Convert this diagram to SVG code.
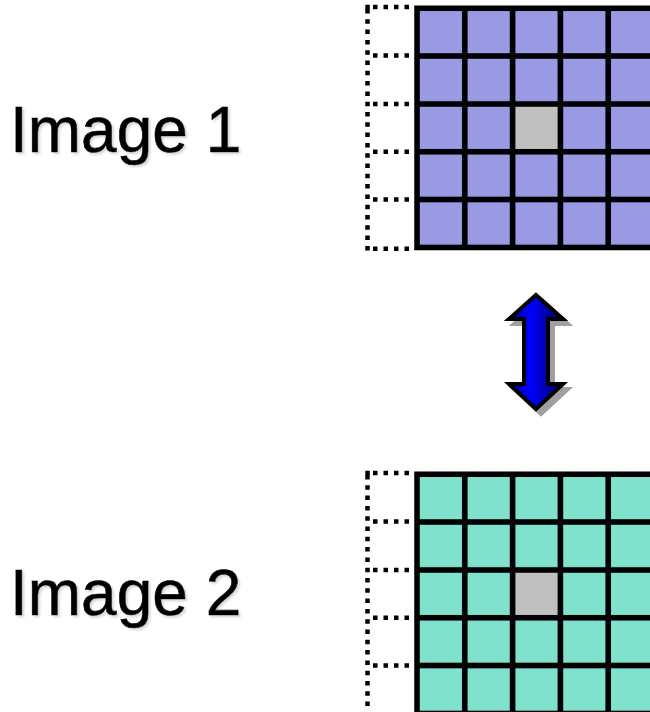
<svg xmlns="http://www.w3.org/2000/svg" xmlns:xlink="http://www.w3.org/1999/xlink" width="650" height="712" viewBox="0 0 650 712">
<style>
.lbl{font-family:"Liberation Sans",Arial,sans-serif;font-size:64px;fill:#000;stroke:#000;stroke-width:0.6;filter:url(#tsh)}
.cell{stroke:currentColor;stroke-width:1}
.gl{stroke:#000;stroke-width:5.5;fill:none}
.dot{stroke:#000;stroke-width:4.5;fill:none}
.dh{stroke-dasharray:4.5 6}
.dv{stroke-dasharray:4.5 5.8}
.hot{fill:#C0C0C0;stroke:#A8A8A8;stroke-width:1}
</style>
<defs>
<filter id="tsh" x="-10%" y="-10%" width="130%" height="130%">
<feDropShadow dx="2" dy="2" stdDeviation="1" flood-color="#888" flood-opacity="0.35"/>
</filter>
<linearGradient id="ag" x1="0" y1="0" x2="1" y2="0">
<stop offset="0" stop-color="#00008A"/>
<stop offset="0.4" stop-color="#0000FF"/>
<stop offset="1" stop-color="#00005A"/>
</linearGradient>
<g id="grid">
<g class="cells">
<rect class="cell" x="419.5" y="10.7" width="42.8" height="42.8"/>
<rect class="cell" x="467.3" y="10.7" width="42.8" height="42.8"/>
<rect class="cell" x="515.1" y="10.7" width="42.8" height="42.8"/>
<rect class="cell" x="562.9" y="10.7" width="42.8" height="42.8"/>
<rect class="cell" x="610.7" y="10.7" width="42.8" height="42.8"/>
<rect class="cell" x="419.5" y="58.5" width="42.8" height="42.8"/>
<rect class="cell" x="467.3" y="58.5" width="42.8" height="42.8"/>
<rect class="cell" x="515.1" y="58.5" width="42.8" height="42.8"/>
<rect class="cell" x="562.9" y="58.5" width="42.8" height="42.8"/>
<rect class="cell" x="610.7" y="58.5" width="42.8" height="42.8"/>
<rect class="cell" x="419.5" y="106.4" width="42.8" height="42.8"/>
<rect class="cell" x="467.3" y="106.4" width="42.8" height="42.8"/>
<rect class="hot" x="515.1" y="106.4" width="42.8" height="42.8"/>
<rect class="cell" x="562.9" y="106.4" width="42.8" height="42.8"/>
<rect class="cell" x="610.7" y="106.4" width="42.8" height="42.8"/>
<rect class="cell" x="419.5" y="154.3" width="42.8" height="42.8"/>
<rect class="cell" x="467.3" y="154.3" width="42.8" height="42.8"/>
<rect class="cell" x="515.1" y="154.3" width="42.8" height="42.8"/>
<rect class="cell" x="562.9" y="154.3" width="42.8" height="42.8"/>
<rect class="cell" x="610.7" y="154.3" width="42.8" height="42.8"/>
<rect class="cell" x="419.5" y="202.1" width="42.8" height="42.8"/>
<rect class="cell" x="467.3" y="202.1" width="42.8" height="42.8"/>
<rect class="cell" x="515.1" y="202.1" width="42.8" height="42.8"/>
<rect class="cell" x="562.9" y="202.1" width="42.8" height="42.8"/>
<rect class="cell" x="610.7" y="202.1" width="42.8" height="42.8"/>
</g>
<path class="gl" d="M414.3,8.2H660M414.3,56H660M414.3,103.9H660M414.3,151.8H660M414.3,199.6H660M414.3,247.4H660M417,5.5V250.1M464.8,5.5V250.1M512.6,5.5V250.1M560.4,5.5V250.1M608.2,5.5V250.1M656,5.5V250.1"/>
<path class="dot dh" d="M373,7H414M373,55.5H414M373,103.9H414M373,151.8H414M373,199.6H414M373,248.7H414"/>
<path class="dot dv" d="M367.5,9V252"/>
<path class="dot dh" d="M365.3,7H369.8"/>
</g>
</defs>

<g id="image1">
<text class="lbl" x="10" y="151.7">Image 1</text>
<use xlink:href="#grid" href="#grid" fill="#9A9AE4" color="#7A7AC8"/>
</g>

<g id="image2">
<text class="lbl" x="10" y="615">Image 2</text>
<use xlink:href="#grid" href="#grid" transform="translate(0,466)" fill="#80E2CC" color="#62C4AE"/>
</g>

<g id="connectors">
<g id="arrow">
<path d="M536,295 L563,319 L548,319 L548,384 L563,384 L536,409 L509,384 L524,384 L524,319 L509,319 Z" transform="translate(5,5)" fill="#A0A0A0" stroke="#A0A0A0" stroke-width="4" stroke-linejoin="miter"/>
<path d="M536,295 L563,319 L548,319 L548,384 L563,384 L536,409 L509,384 L524,384 L524,319 L509,319 Z" fill="url(#ag)" stroke="#000" stroke-width="4" stroke-linejoin="miter"/>
</g>
</g>
</svg>
